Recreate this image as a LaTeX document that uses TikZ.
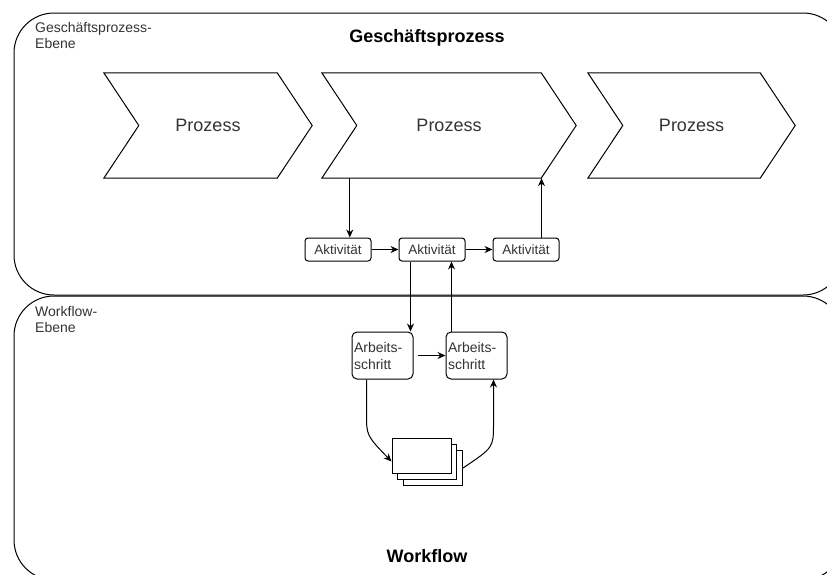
\documentclass[tikz,border=0pt]{standalone}
\usepackage{fontspec}
\setmainfont{Liberation Sans}
\usetikzlibrary{arrows.meta,calc}
\definecolor{ink}{HTML}{333333}
\tikzset{
  line/.style={draw=black, line width=1pt},
  conn/.style={line, -{Stealth[length=8pt,width=7pt]}},
  lane/.style={line, rounded corners=40pt},
  proc/.style={minimum width=#1, minimum height=105pt, inner sep=0pt,
    text=ink, font=\fontsize{18}{21}\selectfont},
  act/.style={line, rounded corners=3pt, minimum width=66pt, minimum height=23pt,
    inner sep=0pt, text=ink, font=\fontsize{13.5}{16}\selectfont},
  stepbox/.style={line, rounded corners=5pt, minimum width=61pt, minimum height=47pt,
    inner sep=0pt, text=ink, font=\fontsize{14}{17}\selectfont},
  lanelabel/.style={anchor=north west, align=left, inner sep=0pt, text=ink,
    font=\fontsize{14}{16.5}\selectfont},
  title/.style={inner sep=0pt, font=\fontsize{18}{21}\selectfont\bfseries},
  sheet/.style={line, fill=white, minimum width=59pt, minimum height=35pt, inner sep=0pt},
}
\begin{document}
\begin{tikzpicture}[x=1pt,y=-1pt]
\useasboundingbox (0,0) rectangle (827,574);
\clip (0,0) rectangle (827,574);

% swimlanes
\draw[lane] (14,13) rectangle (843,295);
\draw[lane] (14,296) rectangle (843,580);
\node[lanelabel] (l1) at (35,22) {Geschäftsprozess-\\Ebene};
\node[lanelabel] (l2) at (35,306) {Workflow-\\Ebene};
\node[title] (t1) at (427,38) {Geschäftsprozess};
\node[title] (t2) at (427,556) {Workflow};

% process chevrons
\node[proc=208pt] (p1) at (208,125.5) {Prozess};
\node[proc=254pt] (p2) at (449,125.5) {Prozess};
\node[proc=207pt] (p3) at (691.5,125.5) {Prozess};
\foreach \p in {p1,p2,p3}{
  \draw[line] (\p.north west) -- ([xshift=-35pt]\p.north east) -- (\p.east)
    -- ([xshift=-35pt]\p.south east) -- (\p.south west) -- ([xshift=35pt]\p.west) -- cycle;
}

% activities
\node[act] (a1) at (338,249.5) {Aktivität};
\node[act] (a2) at (432,249.5) {Aktivität};
\node[act] (a3) at (526,249.5) {Aktivität};

% work steps
\node[stepbox, align=left, text width=57pt] (w1) at (382.5,355.5) {Arbeits-\\schritt};
\node[stepbox, align=left, text width=57pt] (w2) at (476.5,355.5) {Arbeits-\\schritt};

% document stack
\node[sheet] (d3) at (433,468) {};
\node[sheet] (d2) at (427,461.5) {};
\node[sheet] (d1) at (421.5,455.5) {};

% connectors
\draw[conn] ([xshift=28pt]p2.south west) -- ([xshift=28pt]p2.south west |- a1.north);
\draw[conn] (a1.east) -- (a2.west);
\draw[conn] (a2.east) -- (a3.west);
\draw[conn] ([xshift=-18pt]a3.north east) -- ([xshift=-18pt]a3.north east |- p2.south);
\draw[conn] ([xshift=12pt]a2.south west) -- ([xshift=12pt]a2.south west |- w1.north);
\draw[conn] ([xshift=6pt]w2.north west) -- ([xshift=6pt]w2.north west |- a2.south);
\draw[conn] ([xshift=4pt]w1.east) -- (w2.west);
\coordinate (c1) at ([xshift=15pt]w1.south west);
\draw[conn] (c1) -- ($(c1)+(0,34)$) .. controls ($(c1)+(0,56)$) .. ([yshift=-6pt]d1.west);
\coordinate (c2) at ([xshift=-14pt]w2.south east);
\draw[conn] (d3.east) .. controls ($(c2)+(0,68)$) .. ($(c2)+(0,44)$) -- (c2);
\end{tikzpicture}
\end{document}
